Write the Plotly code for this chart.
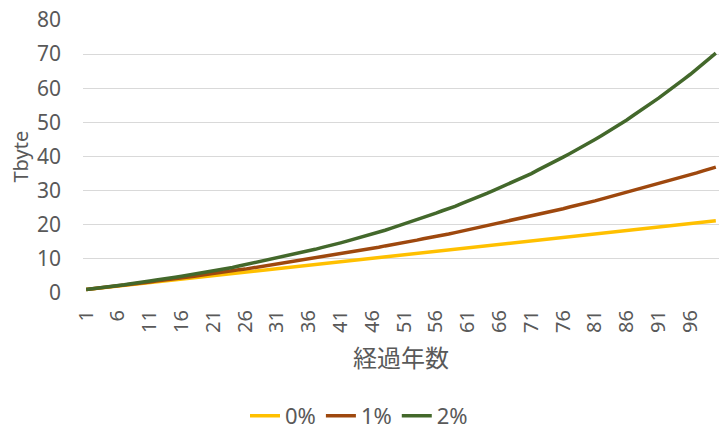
import plotly.graph_objects as go

years = list(range(1, 101))

rate_0 = [
    1.0, 1.2, 1.4, 1.6, 1.8, 2.0, 2.2, 2.4, 2.6, 2.8,
    3.0, 3.2, 3.4, 3.7, 3.9, 4.1, 4.3, 4.5, 4.7, 4.9,
    5.1, 5.3, 5.5, 5.7, 5.9, 6.1, 6.3, 6.5, 6.7, 6.9,
    7.1, 7.3, 7.5, 7.7, 7.9, 8.1, 8.3, 8.5, 8.8, 9.0,
    9.2, 9.4, 9.6, 9.8, 10.0, 10.2, 10.4, 10.6, 10.8, 11.0,
    11.2, 11.4, 11.6, 11.8, 12.0, 12.2, 12.4, 12.6, 12.8, 13.0,
    13.2, 13.4, 13.6, 13.9, 14.1, 14.3, 14.5, 14.7, 14.9, 15.1,
    15.3, 15.5, 15.7, 15.9, 16.1, 16.3, 16.5, 16.7, 16.9, 17.1,
    17.3, 17.5, 17.7, 17.9, 18.1, 18.3, 18.5, 18.7, 18.9, 19.2,
    19.4, 19.6, 19.8, 20.0, 20.2, 20.4, 20.6, 20.8, 21.0, 21.2,
]

rate_1 = [
    1.0, 1.2, 1.4, 1.6, 1.9, 2.1, 2.3, 2.5, 2.8, 3.0,
    3.2, 3.5, 3.7, 4.0, 4.2, 4.4, 4.7, 4.9, 5.2, 5.5,
    5.7, 6.0, 6.2, 6.5, 6.8, 7.0, 7.3, 7.6, 7.9, 8.2,
    8.4, 8.7, 9.0, 9.3, 9.6, 9.9, 10.2, 10.5, 10.8, 11.1,
    11.5, 11.8, 12.1, 12.4, 12.8, 13.1, 13.4, 13.8, 14.1, 14.4,
    14.8, 15.1, 15.5, 15.9, 16.2, 16.6, 17.0, 17.3, 17.7, 18.1,
    18.5, 18.9, 19.3, 19.7, 20.1, 20.5, 20.9, 21.3, 21.7, 22.1,
    22.5, 23.0, 23.4, 23.8, 24.3, 24.7, 25.2, 25.6, 26.1, 26.6,
    27.0, 27.5, 28.0, 28.5, 29.0, 29.5, 30.0, 30.5, 31.0, 31.5,
    32.0, 32.5, 33.1, 33.6, 34.1, 34.7, 35.2, 35.8, 36.3, 36.9,
]

rate_2 = [
    1.0, 1.2, 1.5, 1.7, 1.9, 2.2, 2.4, 2.7, 2.9, 3.2,
    3.5, 3.8, 4.0, 4.3, 4.6, 4.9, 5.2, 5.5, 5.9, 6.2,
    6.5, 6.9, 7.2, 7.5, 7.9, 8.3, 8.6, 9.0, 9.4, 9.8,
    10.2, 10.6, 11.0, 11.5, 11.9, 12.3, 12.8, 13.3, 13.7, 14.2,
    14.7, 15.2, 15.7, 16.2, 16.8, 17.3, 17.9, 18.4, 19.0, 19.6,
    20.2, 20.8, 21.4, 22.1, 22.7, 23.4, 24.1, 24.7, 25.4, 26.2,
    26.9, 27.6, 28.4, 29.2, 30.0, 30.8, 31.6, 32.4, 33.3, 34.2,
    35.0, 36.0, 36.9, 37.8, 38.8, 39.8, 40.8, 41.8, 42.8, 43.9,
    45.0, 46.1, 47.2, 48.4, 49.5, 50.7, 52.0, 53.2, 54.5, 55.8,
    57.1, 58.5, 59.8, 61.2, 62.7, 64.1, 65.6, 67.1, 68.7, 70.3,
]

series = [("0%", rate_0, "#FFC000"), ("1%", rate_1, "#9E480E"), ("2%", rate_2, "#43682B")]

x_ticks = list(range(1, 97, 5))

font_family = "Noto Sans, Noto Sans CJK JP"
grey = "#595959"

fig = go.Figure()
for name, vals, color in series:
    fig.add_trace(go.Scatter(x=years, y=vals, name=name, mode="lines",
                             line=dict(color=color, width=3.5)))

# the page body adds 8px all round, so size the figure to fill the window exactly
fig.update_layout(
    width=712, height=421,
    margin=dict(l=75, r=1, t=12, b=136),
    paper_bgcolor="white", plot_bgcolor="white",
    font=dict(family=font_family, color=grey, size=21),
    showlegend=True,
    # container-referenced y so the legend does not shrink the plot area
    legend=dict(orientation="h", x=0.434, xanchor="center",
                yref="container", y=0.031, yanchor="middle",
                font=dict(size=22), itemwidth=30, tracegroupgap=0),
    xaxis=dict(range=[0.5, 100.5], tickvals=x_ticks, tickangle=-90,
               showgrid=False, zeroline=False, showline=False, automargin=False,
               tickfont=dict(size=20), ticklabelstandoff=12, ticklabeloverflow="allow"),
    yaxis=dict(range=[0, 80], dtick=10, gridcolor="#D9D9D9", gridwidth=1,
               zeroline=False, showline=False, automargin=False,
               tickfont=dict(size=21), ticklabelstandoff=21, ticklabeloverflow="allow"),
    annotations=[
        dict(text="Tbyte", xref="paper", yref="paper", x=-0.099, y=0.5,
             xanchor="center", yanchor="middle", textangle=-90, showarrow=False,
             font=dict(size=20, color=grey)),
        dict(text="経過年数", xref="paper", yref="paper", x=0.5, y=-0.234,
             xanchor="center", yanchor="middle", showarrow=False,
             font=dict(size=24, color=grey, family="Noto Sans CJK JP")),
    ],
)

fig.write_html("out.html")
